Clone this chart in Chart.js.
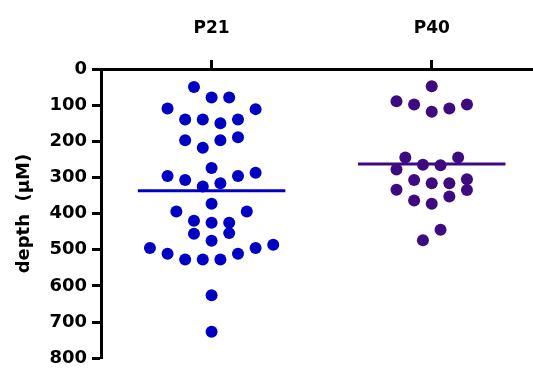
<!DOCTYPE html>
<html>
<head>
<meta charset="utf-8">
<script src="https://cdn.jsdelivr.net/npm/chart.js@4.4.1/dist/chart.umd.min.js"></script>
<style>
  html, body { margin: 0; padding: 0; background: #fff; }
  #wrap { width: 533px; height: 374px; position: relative; }
</style>
</head>
<body>
<div id="wrap"><canvas id="c"></canvas></div>
<script>
// Groups shown along the top axis
const categories = ['P21', 'P40'];

// Depth values (µM) for each animal group
const p21Depth = [50, 79, 79, 109, 111, 140, 140, 150, 140, 197, 218, 197, 189,
  274, 296, 307, 325, 316, 296, 287, 373, 394, 394, 420, 425, 425, 456, 454, 475,
  495, 511, 527, 527, 527, 511, 495, 486, 626, 727];
const p40Depth = [48, 89, 98, 118, 109, 98, 245, 245, 278, 265, 266, 307, 316, 316,
  305, 334, 335, 364, 373, 353, 445, 474];

// Swarm lane of each point (column scatter spread, in half-dot steps)
const p21Lane = [-2, 0, 2, -5, 5, -3, -1, 1, 3, -3, -1, 1, 3,
  0, -5, -3, -1, 1, 3, 5, 0, -4, 4, -2, 0, 2, -2, 2, 0,
  -7, -5, -3, -1, 1, 3, 5, 7, 0, 0];
const p40Lane = [0, -4, -2, 0, 2, 4, -3, 3, -4, -1, 1, -2, 0, 2,
  4, -4, 4, -2, 0, 2, 1, -1];

// Y axis tick values
const yTicks = [0, 100, 200, 300, 400, 500, 600, 700, 800];

const LANE = 0.04;       // lane spacing in category units
const HALF_BAR = 0.335;  // half length of the mean bar

const mean = a => a.reduce((s, v) => s + v, 0) / a.length;

function swarm(values, lanes, catIndex) {
  return values.map((v, i) => ({ x: catIndex + 1 + lanes[i] * LANE, y: v }));
}
function meanBar(values, catIndex) {
  const m = mean(values);
  return [{ x: catIndex + 1 - HALF_BAR, y: m }, { x: catIndex + 1 + HALF_BAR, y: m }];
}

const blue = '#0000c4';
const purple = '#3e0a80';

new Chart(document.getElementById('c'), {
  type: 'scatter',
  data: {
    datasets: [
      { label: categories[0], data: swarm(p21Depth, p21Lane, 0),
        backgroundColor: blue, borderColor: blue, pointRadius: 6, pointBorderWidth: 0 },
      { label: categories[1], data: swarm(p40Depth, p40Lane, 1),
        backgroundColor: purple, borderColor: purple, pointRadius: 6, pointBorderWidth: 0 },
      { type: 'line', label: categories[0] + ' mean', data: meanBar(p21Depth, 0),
        borderColor: blue, borderWidth: 3, pointRadius: 0, fill: false },
      { type: 'line', label: categories[1] + ' mean', data: meanBar(p40Depth, 1),
        borderColor: purple, borderWidth: 3, pointRadius: 0, fill: false }
    ]
  },
  options: {
    responsive: true,
    maintainAspectRatio: false,
    animation: false,
    layout: { autoPadding: false, padding: { left: 0, right: 0, top: 0, bottom: 10 } },
    plugins: { legend: { display: false }, tooltip: { enabled: false } },
    scales: {
      x: {
        type: 'linear',
        position: 'top',
        min: 0.4977,
        max: 2.46,
        afterBuildTicks: s => { s.ticks = categories.map((c, i) => ({ value: i + 1 })); },
        afterFit: s => { s.height = 69; },
        ticks: {
          callback: v => categories[v - 1] || '',
          font: { family: 'DejaVu Sans', weight: 'bold', size: 17 },
          color: '#000', padding: 21, maxRotation: 0
        },
        grid: { display: true, drawOnChartArea: false, drawTicks: true,
          tickLength: 9, tickWidth: 3, tickColor: '#000' },
        border: { display: true, width: 3, color: '#000' }
      },
      y: {
        type: 'linear',
        reverse: true,
        min: 0,
        max: 800,
        afterBuildTicks: s => { s.ticks = yTicks.map(v => ({ value: v })); },
        afterFit: s => { s.width = 101; },
        ticks: { font: { family: 'DejaVu Sans', weight: 'bold', size: 18 },
          color: '#000', padding: 5 },
        grid: { display: true, drawOnChartArea: false, drawTicks: true,
          tickLength: 9, tickWidth: 3, tickColor: '#000' },
        border: { display: true, width: 3, color: '#000' },
        title: { display: true, text: 'depth  (\u03bcM)', color: '#000',
          font: { family: 'DejaVu Sans', weight: 'bold', size: 18 },
          padding: { top: 14, bottom: 0 } }
      }
    }
  }
});
</script>
</body>
</html>
